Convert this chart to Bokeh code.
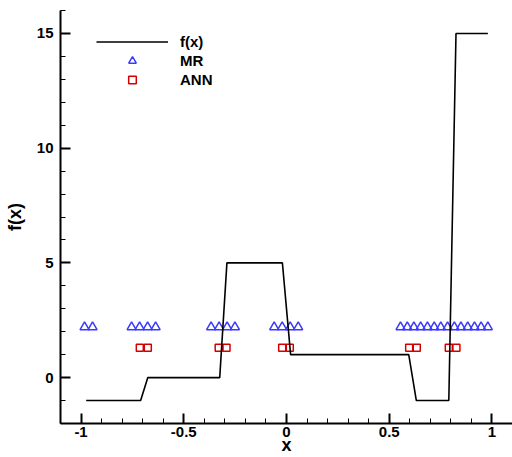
from bokeh.plotting import figure
from bokeh.models import FixedTicker, Legend, LegendItem, Range1d
from bokeh.embed import file_html
from bokeh.resources import INLINE

# f(x) piecewise curve
fx_x = [-0.975, -0.71, -0.675, -0.325, -0.29, -0.02, 0.02, 0.595, 0.632, 0.79, 0.825, 0.98]
fx_y = [-1, -1, 0, 0, 5, 5, 1, 1, -1, -1, 15, 15]

# MR points
mr_x = [-0.983, -0.944,
        -0.754, -0.715, -0.676, -0.637,
        -0.367, -0.328, -0.289, -0.251,
        -0.060, -0.021, 0.018, 0.057,
        0.555, 0.588, 0.620, 0.653, 0.686, 0.719, 0.751,
        0.784, 0.817, 0.849, 0.882, 0.915, 0.947, 0.980]
mr_y = [2.2] * len(mr_x)

# ANN points
ann_x = [-0.714, -0.675, -0.330, -0.292, -0.021, 0.016, 0.597, 0.634, 0.790, 0.827]
ann_y = [1.3] * len(ann_x)

x_major = [-1, -0.5, 0, 0.5, 1]
x_minor = [round(-1.1 + 0.1 * i, 2) for i in range(23)]
y_major = [0, 5, 10, 15]
y_minor = list(range(-2, 17))

p = figure(width=512, height=457, output_backend="svg", toolbar_location=None,
           x_range=Range1d(-1.1, 1.1), y_range=Range1d(-2, 16),
           min_border_left=60, min_border_right=0, min_border_top=10, min_border_bottom=0)
p.outline_line_color = None
p.xgrid.visible = False
p.ygrid.visible = False
p.background_fill_color = "white"
p.border_fill_color = "white"

font = "Liberation Sans"
for ax in (p.xaxis[0], p.yaxis[0]):
    ax.axis_line_width = 2
    ax.axis_line_color = "black"
    ax.major_tick_in = 10
    ax.major_tick_out = 0
    ax.minor_tick_in = 5
    ax.minor_tick_out = 0
    ax.major_tick_line_width = 2
    ax.minor_tick_line_width = 1
    ax.major_label_text_font = font
    ax.major_label_text_font_style = "bold"
    ax.major_label_text_font_size = "15px"
    ax.major_label_text_color = "black"
    ax.axis_label_text_font = font
    ax.axis_label_text_font_style = "bold"
    ax.axis_label_text_font_size = "18px"
    ax.axis_label_text_color = "black"

p.xaxis.ticker = FixedTicker(ticks=x_major, minor_ticks=x_minor)
p.yaxis.ticker = FixedTicker(ticks=y_major, minor_ticks=y_minor)
p.xaxis.major_label_overrides = {-1: "-1", -0.5: "-0.5", 0: "0", 0.5: "0.5", 1: "1"}
p.xaxis.axis_label = "x"
p.yaxis.axis_label = "f(x)"
p.xaxis.major_label_standoff = 3
p.xaxis.axis_label_standoff = -5
p.yaxis.major_label_standoff = 7
p.yaxis.axis_label_standoff = 9

r_mr = p.scatter(mr_x, mr_y, marker="triangle", size=9, line_color="#3a3aff",
                 fill_color=None, line_width=1.5)
r_ann = p.scatter(ann_x, ann_y, marker="square", size=7, line_color="#d40000",
                  fill_color=None, line_width=1.5)
r_f = p.line(fx_x, fx_y, line_color="black", line_width=1.6)

legend = Legend(items=[LegendItem(label="f(x)", renderers=[r_f]),
                       LegendItem(label="MR", renderers=[r_mr]),
                       LegendItem(label="ANN", renderers=[r_ann])],
                location=(36, 334))
legend.glyph_width = 72
legend.glyph_height = 19
legend.label_height = 19
legend.spacing = 0
legend.padding = 0
legend.margin = 0
legend.label_standoff = 12
legend.border_line_color = None
legend.background_fill_alpha = 0
legend.label_text_font = font
legend.label_text_font_style = "bold"
legend.label_text_font_size = "15px"
legend.label_text_color = "black"
p.add_layout(legend, "center")

open("out.html", "w").write(file_html(p, INLINE))
